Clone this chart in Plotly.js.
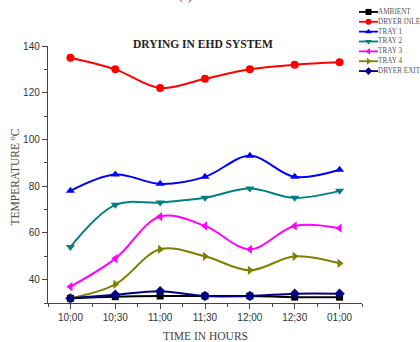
<!DOCTYPE html>
<html><head><meta charset="utf-8">
<script src="https://cdn.plot.ly/plotly-3.0.1.min.js"></script>
<style>html,body{margin:0;padding:0;background:#fff;}#c{width:420px;height:342px;}</style>
</head><body><div id="c"></div>
<script>
var times = ["10;00","10;30","11;00","11;30","12;00","12;30","01;00"];
var seriesNames = ["AMBIENT","DRYER INLET","TRAY 1","TRAY 2","TRAY 3","TRAY 4","DRYER EXIT"];
var ambient    = [32, 32.7, 33, 33, 33, 32.5, 32.5];
var dryerInlet = [135, 130, 122, 126, 130, 132, 133];
var tray1      = [78, 85, 81, 84, 93, 84, 87];
var tray2      = [54, 72, 73, 75, 79, 75, 78];
var tray3      = [37, 49, 67, 63, 53, 63, 62];
var tray4      = [32, 38, 53, 50, 44, 50, 47];
var dryerExit  = [32, 33.5, 35, 33, 33, 34, 34];
var yTicks = [40, 60, 80, 100, 120, 140];

var seriesValues = [ambient, dryerInlet, tray1, tray2, tray3, tray4, dryerExit];
var colors  = ["#000000","#ff0000","#0000ff","#008080","#ff00ff","#808000","#000080"];
var symbols = ["square","circle","triangle-up","triangle-down","triangle-left","triangle-right","diamond"];
var sizes   = [7, 8, 8, 8, 8, 8, 8];

var xIdx = times.map(function(_, i){ return i; });
var traces = [];
seriesValues.forEach(function(vals, k){
  traces.push({
    x: xIdx, y: vals, type: "scatter", mode: "lines+markers",
    name: seriesNames[k], showlegend: false,
    line: {color: colors[k], width: 2, shape: "spline", smoothing: 1},
    marker: {color: colors[k], symbol: symbols[k], size: sizes[k]},
    xaxis: "x", yaxis: "y", hoverinfo: "skip"
  });
});
// custom compact legend on hidden axes
var annotations = [];
seriesNames.forEach(function(nm, k){
  traces.push({
    x: [1, 20], y: [k, k], type: "scatter", mode: "lines",
    line: {color: colors[k], width: 1.8}, showlegend: false,
    xaxis: "x2", yaxis: "y2", hoverinfo: "skip"
  });
  traces.push({
    x: [10.5], y: [k], type: "scatter", mode: "markers",
    marker: {color: colors[k], symbol: symbols[k], size: 6}, showlegend: false,
    xaxis: "x2", yaxis: "y2", hoverinfo: "skip"
  });
  annotations.push({
    text: nm, xref: "x2", yref: "y2", x: 18, y: k, xanchor: "left", yanchor: "middle",
    showarrow: false, font: {family: "Liberation Serif", size: 7.2, color: "#555"}
  });
});

var W = 372, H = 303;
function px(x){ return (x - 48) / W; }
function py(y){ return (H - y) / H; }

annotations.push({text: "<b>DRYING IN EHD SYSTEM</b>", xref: "paper", yref: "paper",
  x: px(202.5), y: py(43.5), xanchor: "center", yanchor: "middle", showarrow: false,
  font: {family: "Liberation Serif", size: 11.5, color: "#222"}});
annotations.push({text: "TIME IN HOURS", xref: "paper", yref: "paper",
  x: px(205), y: py(335.7), xanchor: "center", yanchor: "middle", showarrow: false,
  font: {family: "Liberation Serif", size: 11.5, color: "#444"}});
annotations.push({text: "TEMPERATURE <sup>o</sup>C", xref: "paper", yref: "paper", textangle: -90,
  x: px(15), y: py(177.5), xanchor: "center", yanchor: "middle", showarrow: false,
  font: {family: "Liberation Serif", size: 11.5, color: "#444"}});
annotations.push({text: "(a)", xref: "paper", yref: "paper",
  x: px(185), y: py(-3.5), xanchor: "center", yanchor: "middle", showarrow: false,
  font: {family: "Liberation Serif", size: 12, color: "#333"}});

var layout = {
  width: 420, height: 342,
  margin: {l: 48, r: 0, t: 0, b: 39, pad: 0},
  paper_bgcolor: "#fff", plot_bgcolor: "rgba(0,0,0,0)",
  showlegend: false,
  xaxis: {
    domain: [0, 314 / W], range: [-0.5, 6.5],
    tickmode: "array", tickvals: xIdx, ticktext: times,
    showgrid: false, zeroline: false, showline: true, linecolor: "#444", linewidth: 1.2,
    ticks: "outside", ticklen: 5, tickcolor: "#444", tickwidth: 1,
    minor: {tickmode: "linear", tick0: 0.5, dtick: 1, ticks: "outside", ticklen: 3, tickcolor: "#444", showgrid: false},
    tickfont: {family: "Liberation Sans", size: 10, color: "#333"},
    fixedrange: true, anchor: "y"
  },
  yaxis: {
    domain: [0, py(46)], range: [30, 140],
    tickmode: "array", tickvals: yTicks,
    showgrid: false, zeroline: false, showline: true, linecolor: "#444", linewidth: 1.2,
    ticks: "outside", ticklen: 5, tickcolor: "#444", tickwidth: 1,
    minor: {tickmode: "linear", tick0: 30, dtick: 10, ticks: "outside", ticklen: 3, tickcolor: "#444", showgrid: false},
    tickfont: {family: "Liberation Sans", size: 10, color: "#333"},
    fixedrange: true, anchor: "x"
  },
  xaxis2: {domain: [px(358), 1], range: [0, 62], visible: false, fixedrange: true, anchor: "y2"},
  yaxis2: {domain: [py(76), py(7)], range: [6.5, -0.5], visible: false, fixedrange: true, anchor: "x2"},
  annotations: annotations
};
Plotly.newPlot("c", traces, layout, {staticPlot: true, displayModeBar: false});
</script>
</body></html>
